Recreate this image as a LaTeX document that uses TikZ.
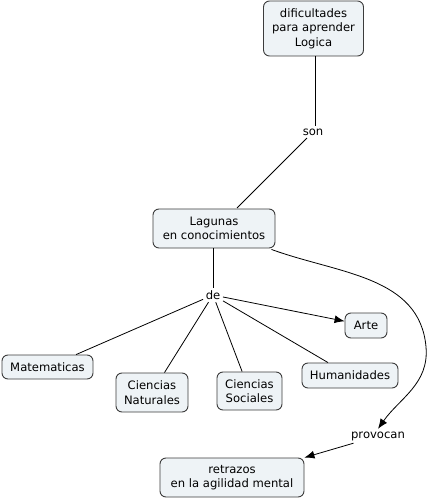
\documentclass[tikz,border=0pt]{standalone}
\usepackage{fontspec}
\setmainfont{DejaVu Sans}
\usetikzlibrary{arrows.meta}
\definecolor{boxfill}{RGB}{238,243,246}
\definecolor{boxline}{RGB}{60,60,60}
\begin{document}
\begin{tikzpicture}[x=1pt,y=-1pt,
  concept/.style={draw=boxline,fill=boxfill,rounded corners=6pt,line width=0.9pt,align=center,inner sep=0pt,
    font=\fontsize{11.6}{14.5}\selectfont},
  linklabel/.style={inner sep=2.5pt,font=\fontsize{11.6}{14.5}\selectfont,fill=white},
  conn/.style={line width=0.8pt,draw=black},
  arr/.style={conn,-{Latex[length=10pt,width=8pt]}}]
\useasboundingbox (0,0) rectangle (429,502);
\node[concept,minimum width=100pt,minimum height=55pt] (dif) at (313.5,28.5) {dificultades\\para aprender\\Logica};
\node[concept,minimum width=122pt,minimum height=39pt] (lag) at (214,228.5) {Lagunas\\en conocimientos};
\node[concept,minimum width=42pt,minimum height=25pt] (arte) at (366,325.5) {Arte};
\node[concept,minimum width=91pt,minimum height=24pt] (mat) at (47.5,367) {Matematicas};
\node[concept,minimum width=72pt,minimum height=39pt] (nat) at (152,392.5) {Ciencias\\Naturales};
\node[concept,minimum width=65pt,minimum height=38pt] (soc) at (249.5,391) {Ciencias\\Sociales};
\node[concept,minimum width=96pt,minimum height=25pt] (hum) at (350,375.5) {Humanidades};
\node[concept,minimum width=144pt,minimum height=39pt] (ret) at (232,477.5) {retrazos\\en la agilidad mental};
\node[linklabel] (son) at (313,132) {son};
\node[linklabel] (de) at (213,295) {de};
\node[linklabel] (prov) at (378,436) {provocan};
\coordinate (bend) at (426,347);
\draw[conn] (315,56) -- (son.north -| 315,0);
\draw[conn] (son) -- (237,208);
\draw[conn] (lag.south -| de.north) -- (de.north);
\draw[arr] (de) -- (arte);
\draw[conn] (de) -- (mat);
\draw[conn] (de) -- (nat);
\draw[conn] (de) -- (soc);
\draw[conn] (de) -- (hum);
\draw[conn] ([xshift=-4pt,yshift=-1pt]lag.south east) to[out=-20,in=95] (bend);
\draw[arr] (bend) to[out=-85,in=55] (prov.north);
\draw[arr] (prov) -- (ret.north east);
\end{tikzpicture}
\end{document}
